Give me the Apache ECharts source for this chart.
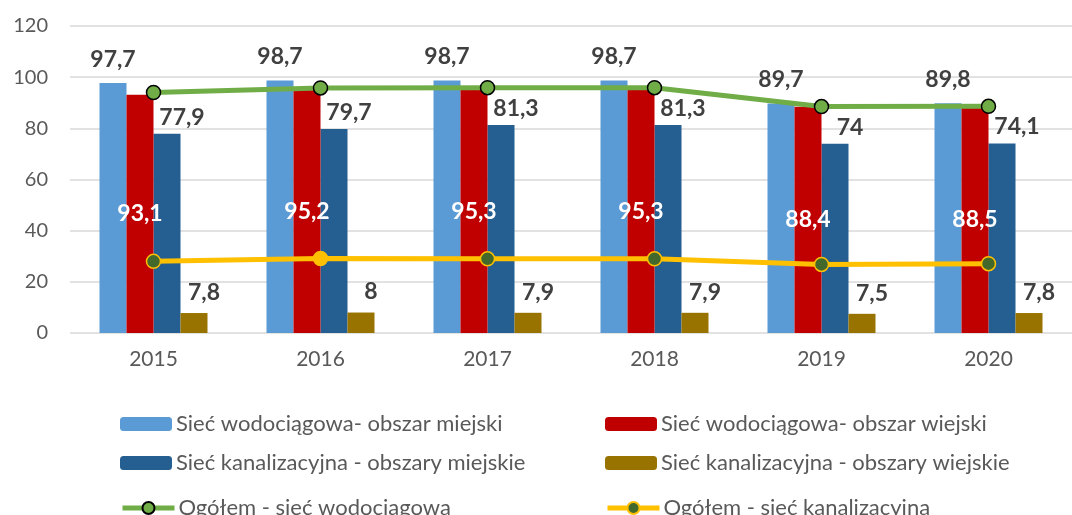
<!DOCTYPE html>
<html>
<head>
<meta charset="utf-8">
<script src="https://cdn.jsdelivr.net/npm/echarts@6/dist/echarts.min.js"></script>
<style>
  html, body { margin: 0; padding: 0; background: #fff; }
  #chart { width: 1072px; height: 515px; }
</style>
</head>
<body>
<div id="chart"></div>
<script>
const years = ['2015', '2016', '2017', '2018', '2019', '2020']
const wodMiasto = [97.7, 98.7, 98.7, 98.7, 89.7, 89.8]
const wodWies = [93.1, 95.2, 95.3, 95.3, 88.4, 88.5]
const kanMiasto = [77.9, 79.7, 81.3, 81.3, 74, 74.1]
const kanWies = [7.8, 8, 7.9, 7.9, 7.5, 7.8]
const ogolemWod = [94.0, 95.8, 95.9, 95.9, 88.5, 88.6]
const ogolemKan = [28.0, 29.1, 29.0, 29.0, 26.8, 27.1]

const names = [
  'Sieć wodociągowa- obszar miejski',
  'Sieć wodociągowa- obszar wiejski',
  'Sieć kanalizacyjna - obszary miejskie',
  'Sieć kanalizacyjna - obszary wiejskie',
  'Ogółem - sieć wodociągowa',
  'Ogółem - sieć kanalizacyjna'
]

const font = 'Lato, "Noto Sans", sans-serif'
const comma = p => String(p.value).replace('.', ',')
const lbl = (extra) => Object.assign({
  show: true,
  position: 'top',
  formatter: comma,
  fontFamily: font,
  fontSize: 23,
  fontWeight: 'bold',
  color: '#404040'
}, extra)

// one legend per item so the 2x3 layout matches the original
const legendPos = [[120, 413], [605, 413], [120, 452], [605, 452], [120, 497], [605, 497]]
const legends = names.map((n, i) => ({
  data: [n],
  left: legendPos[i][0], top: legendPos[i][1],
  padding: 0,
  itemWidth: 52, itemHeight: i >= 4 ? 15 : 14,
  lineStyle: { width: 5 },
  textStyle: { fontFamily: font, fontSize: 22, color: '#595959', padding: [0, 0, 0, -1] }
}))

const chart = echarts.init(document.getElementById('chart'))
chart.setOption({
  animation: false,
  grid: { left: 70, width: 1015, top: 26, height: 307 },
  legend: legends,
  xAxis: {
    type: 'category',
    data: years,
    axisLine: { show: false },
    axisTick: { show: false },
    axisLabel: { fontFamily: font, fontSize: 21, color: '#595959', margin: 16 }
  },
  yAxis: {
    type: 'value',
    min: 0, max: 120, interval: 20,
    axisLabel: { fontFamily: font, fontSize: 20, color: '#595959', margin: 22 },
    splitLine: { lineStyle: { color: '#d9d9d9', width: 1.5 } }
  },
  series: [
    {
      name: names[0], type: 'bar', data: wodMiasto,
      barWidth: 27, barGap: '0%',
      itemStyle: { color: '#5B9BD5' },
      label: lbl({ distance: 12 })
    },
    {
      name: names[1], type: 'bar', data: wodWies,
      barWidth: 27, barGap: '0%',
      itemStyle: { color: '#C00000' },
      label: lbl({ position: 'inside', color: '#fff' }),
      z: 3
    },
    {
      name: names[2], type: 'bar', data: kanMiasto,
      barWidth: 27, barGap: '0%',
      itemStyle: { color: '#255E91' },
      label: lbl({ distance: 5, offset: [15, 0] })
    },
    {
      name: names[3], type: 'bar', data: kanWies,
      barWidth: 27, barGap: '0%',
      itemStyle: { color: '#997300' },
      label: lbl({ distance: 9, offset: [10, 0] })
    },
    {
      name: names[4], type: 'line', data: ogolemWod,
      symbol: 'circle', symbolSize: 14,
      lineStyle: { color: '#70AD47', width: 5 },
      itemStyle: { color: '#70AD47', borderColor: '#000', borderWidth: 1.5 },
      z: 5
    },
    {
      name: names[5], type: 'line',
      data: ogolemKan.map((v, i) => i === 1
        ? { value: v, itemStyle: { color: '#FFC000' } }
        : v),
      symbol: 'circle', symbolSize: 14,
      lineStyle: { color: '#FFC000', width: 5 },
      itemStyle: { color: '#43682B', borderColor: '#FFC000', borderWidth: 1.5 },
      z: 5
    }
  ]
})
</script>
</body>
</html>
